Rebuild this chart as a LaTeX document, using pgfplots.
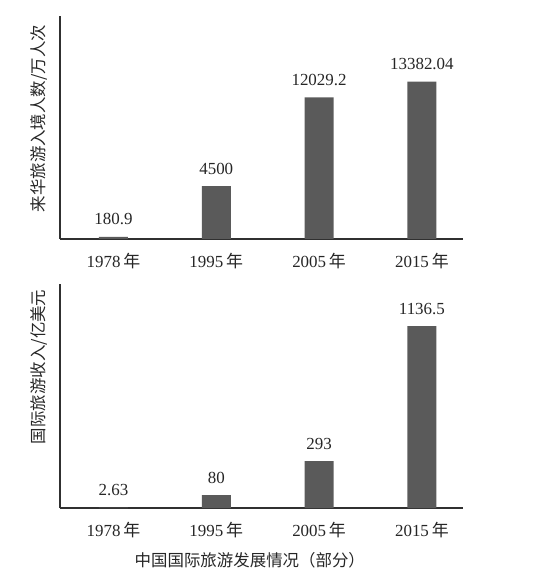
\documentclass[border=0pt]{standalone}
\usepackage{fontspec}
\setmainfont{Liberation Serif}
\newfontfamily\cjk{Noto Sans CJK SC}
\usepackage{pgfplots}
\pgfplotsset{compat=1.18}
\definecolor{barc}{HTML}{5A5A5A}
\definecolor{axc}{HTML}{303030}
\definecolor{txt}{HTML}{262626}
\pgfplotsset{
  myax/.style={
    scale only axis, width=403bp,
    axis x line=bottom, axis y line=left,
    axis line style={-, axc, line width=1.3bp},
    ytick=\empty, xtick={0,1,2,3},
    xticklabels={1978\,{\cjk 年},1995\,{\cjk 年},2005\,{\cjk 年},2015\,{\cjk 年}},
    major tick length=0pt,
    xmin=-0.52, xmax=3.40, ymin=0,
    xticklabel style={font=\fontsize{17}{20}\selectfont, text=txt, yshift=-11bp},
    ybar, bar width=29bp,
    nodes near coords, point meta=explicit symbolic,
    nodes near coords style={font=\fontsize{17}{20}\selectfont, anchor=south, inner sep=0pt, yshift=11.5bp, text=txt},
    ylabel style={anchor=center, font=\fontsize{16.5}{19}\selectfont\cjk, text=txt},
    clip=false,
  }
}
\begin{document}
\begin{tikzpicture}
\useasboundingbox (0,0) rectangle (537bp,574bp);
\begin{axis}[myax, at={(60bp,335bp)}, anchor=south west, height=223bp, ymax=18950,
  ylabel={来华旅游入境人数/万人次},
  ylabel style={at={(axis description cs:-0.052,0.54)}}]
\addplot[fill=barc, draw=none] coordinates {(0,180.9) [180.9] (1,4500) [4500] (2,12029.2) [12029.2] (3,13382.04) [13382.04]};
\end{axis}
\begin{axis}[myax, at={(60bp,66bp)}, anchor=south west, height=224bp, ymax=1400,
  ylabel={国际旅游收入/亿美元},
  ylabel style={at={(axis description cs:-0.052,0.63)}},
  xlabel={中国国际旅游发展情况（部分）},
  xlabel style={at={(axis description cs:0.471,0)}, anchor=center, yshift=-52bp, font=\fontsize{16.5}{19}\selectfont\cjk, text=txt}]
\addplot[fill=barc, draw=none] coordinates {(0,2.63) [2.63] (1,80) [80] (2,293) [293] (3,1136.5) [1136.5]};
\end{axis}
\end{tikzpicture}
\end{document}
